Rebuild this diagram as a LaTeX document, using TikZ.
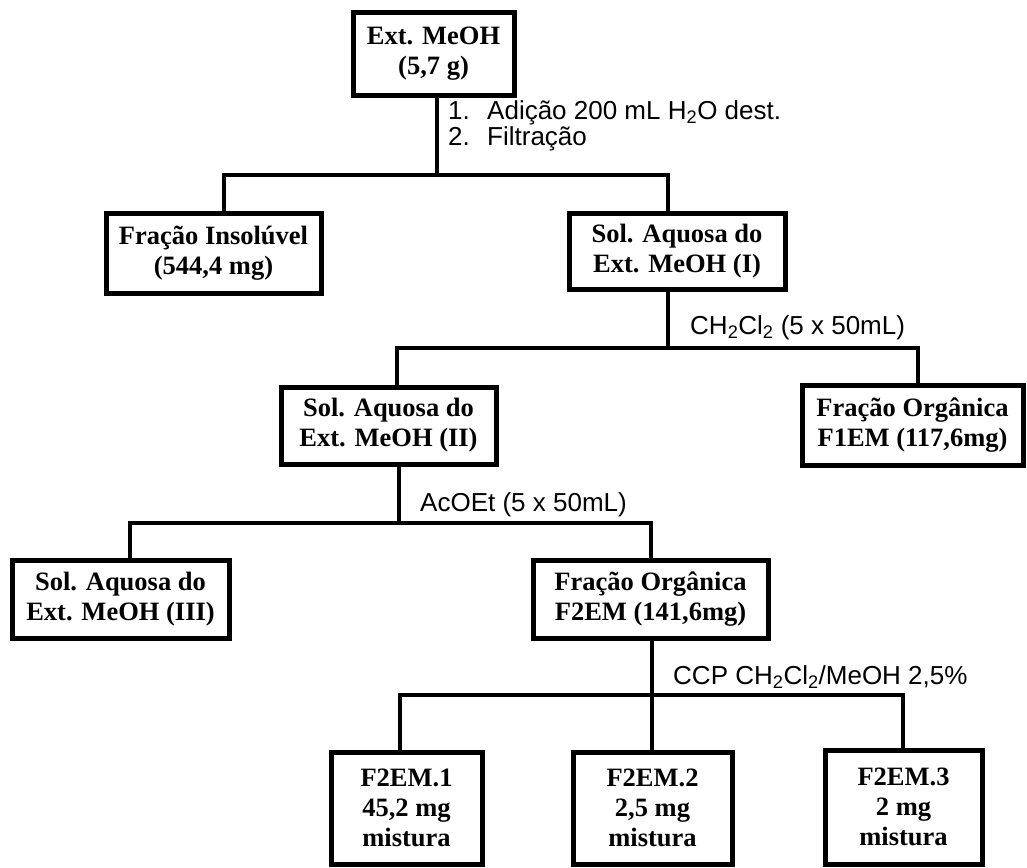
\documentclass[tikz,border=0pt]{standalone}
\usepackage{fontspec}
\setmainfont{Liberation Serif}
\setsansfont{Liberation Sans}
\begin{document}
\begin{tikzpicture}[x=1pt,y=-1pt,
  box/.style={draw, line width=5pt, inner sep=0pt, align=center,
    font=\bfseries\fontsize{26.5}{30}\selectfont},
  link/.style={line width=4pt, line join=miter},
  note/.style={anchor=base west, inner sep=0pt,
    font=\sffamily\fontsize{26}{30}\selectfont},
]
\useasboundingbox (0,0) rectangle (1027,867);

% boxes
\node[box, minimum width=161pt, minimum height=82pt] (A)  at (433.5,54)  {Ext. MeOH\\(5,7 g)};
\node[box, minimum width=215pt, minimum height=80pt] (FI) at (213.5,253) {Fração Insolúvel\\(544,4 mg)};
\node[box, minimum width=216pt, minimum height=76pt] (S1) at (677,251)   {Sol. Aquosa do\\Ext. MeOH (I)};
\node[box, minimum width=215pt, minimum height=77pt] (S2) at (388.5,425.5) {Sol. Aquosa do\\Ext. MeOH (II)};
\node[box, minimum width=221pt, minimum height=80pt] (F1) at (912.5,425) {Fração Orgânica\\F1EM (117,6mg)};
\node[box, minimum width=217pt, minimum height=78pt] (S3) at (120.5,599) {Sol. Aquosa do\\Ext. MeOH (III)};
\node[box, minimum width=235pt, minimum height=78pt] (F2) at (650.5,599) {Fração Orgânica\\F2EM (141,6mg)};
\node[box, minimum width=151pt, minimum height=112pt] (B1) at (406.5,808) {F2EM.1\\45,2 mg\\mistura};
\node[box, minimum width=159pt, minimum height=112pt] (B2) at (652.5,808) {F2EM.2\\2,5 mg\\mistura};
\node[box, minimum width=157pt, minimum height=114pt] (B3) at (903.5,807) {F2EM.3\\2 mg\\mistura};

% branch points
\coordinate (j1) at (437,175);
\coordinate (j1l) at (224,175);
\coordinate (j1r) at (668,175);
\coordinate (j2) at (668,348);
\coordinate (j2l) at (397,348);
\coordinate (j2r) at (918,348);
\coordinate (j3) at (399,523);
\coordinate (j3l) at (130,523);
\coordinate (j3r) at (651,523);
\coordinate (j4) at (652,695);
\coordinate (j4l) at (400,695);
\coordinate (j4r) at (903,695);

% connectors
\draw[link] (A.south -| j1) -- (j1);
\draw[link] (FI.north -| j1l) -- (j1l) -- (j1r) -- (S1.north -| j1r);
\draw[link] (S1.south -| j2) -- (j2);
\draw[link] (S2.north -| j2l) -- (j2l) -- (j2r) -- (F1.north -| j2r);
\draw[link] (S2.south -| j3) -- (j3);
\draw[link] (S3.north -| j3l) -- (j3l) -- (j3r) -- (F2.north -| j3r);
\draw[link] (F2.south -| j4) -- (B2.north -| j4);
\draw[link] (B1.north -| j4l) -- (j4l) -- (j4r) -- (B3.north -| j4r);

% step labels
\node[note] (n1) at (448,119) {\makebox[39pt][l]{1.}Adição 200 mL H\textsubscript{2}O dest.};
\node[note] (n2) at (448,145) {\makebox[39pt][l]{2.}Filtração};
\node[note] (n3) at (690,334) {CH\textsubscript{2}Cl\textsubscript{2} (5 x 50mL)};
\node[note] (n4) at (420,511) {AcOEt (5 x 50mL)};
\node[note] (n5) at (673,684) {CCP CH\textsubscript{2}Cl\textsubscript{2}/MeOH 2,5\%};
\end{tikzpicture}
\end{document}
